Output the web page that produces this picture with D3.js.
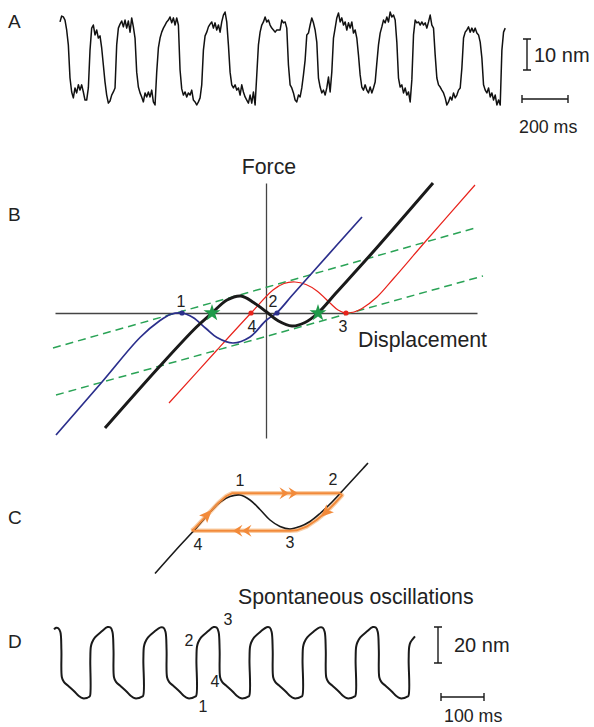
<!DOCTYPE html>
<html lang="en">
<head>
<meta charset="UTF-8" />
<title>Hair-bundle oscillations</title>
<style>
    body, html { margin: 0; padding: 0; background: #fff; overflow: hidden; }
    svg { display: block; font-family: "Liberation Sans", Arial, sans-serif; }
    .letter { font-size: 19px; fill: #222; }
    .big { font-size: 21.3px; fill: #222; }
    .bar { font-size: 20px; fill: #222; }
    .small { font-size: 17.8px; fill: #222; }
    .num { font-size: 16px; fill: #222; }
    .axis path { stroke: #444; stroke-width: 1.3px; }
</style>
</head>
<body>
<svg width="594" height="727"></svg>

<script src="https://d3js.org/d3.v7.min.js"></script>
<script>
    // ---------- data ----------
    // A: bundle position (nm), one sample every 7.25 ms
    const traceAStep = 7.25;
    const traceA = [
        26.8, 28.7, 28.4, 27.4, 24.2, 19.4, 8.7, 4.2, 2.3, 5.5,
        3.9, 6.5, 4.8, 6.5, 4.2, 1.6, 1.6, 5.5, 17.7, 24.8,
        25.8, 22.6, 24.2, 21.6, 22.3, 18.4, 12.9, 7.4, 3.2, 0.6,
        1.3, 3.2, 4.2, 5.5, 19.4, 24.8, 26.1, 27.1, 25.2, 27.4,
        24.8, 27.1, 23.5, 28.1, 25.2, 21.6, 10.6, 5.8, 3.9, 2.6,
        1.0, 3.9, 2.6, 4.2, 2.6, 4.8, 1.0, 0.0, 10.6, 18.4,
        21.6, 23.5, 24.8, 25.8, 26.8, 27.4,
        28.4, 26.5, 28.1, 25.8, 28.1, 25.8, 11.3, 5.2, 3.2, 4.2,
        2.6, 3.9, 3.2, 4.8, 1.6, 1.0, 0.0, 1.0, 2.3, 6.5,
        17.7, 22.3, 23.5, 25.2, 26.1, 26.8, 24.8, 26.5, 24.2, 25.8,
        23.5, 26.8, 29.0, 30.0, 26.8, 19.4, 10.6, 6.5, 5.5, 6.5,
        4.8, 5.5, 3.2, 6.5, 4.2, 2.6, 1.6, 0.6, 3.2, 0.6,
        4.2, 0.0, 9.7, 19.4, 23.5, 25.8, 26.8, 28.4, 26.8, 27.4,
        25.8, 24.8, 24.2, 23.5, 24.2, 24.2,
        24.2, 27.4, 26.5, 26.8, 24.8, 12.9, 6.5, 5.5, 3.9, 1.6,
        1.0, 3.2, 2.6, 5.5, 9.7, 14.5, 22.6, 23.2, 25.8, 28.1,
        26.5, 24.2, 20.3, 8.7, 5.8, 3.9, 4.8, 3.2, 5.5, 9.0,
        4.2, 10.6, 21.6, 24.8, 28.1, 29.7, 26.8, 28.1, 25.8, 26.8,
        24.2, 26.5, 24.8, 26.8, 23.2, 24.2, 21.6, 16.1, 9.7, 5.8,
        4.8, 6.5, 4.8, 3.9, 5.8, 3.9, 5.5, 7.4, 13.5, 19.4,
        23.2, 25.2, 27.4, 26.5, 28.4, 26.8,
        30.0, 28.4, 29.0, 27.4, 20.3, 8.7, 5.8, 6.5, 3.9, 5.5,
        3.2, 4.2, 1.0, 8.1, 22.6, 27.4, 26.5, 26.8, 25.8, 26.8,
        25.8, 26.5, 24.8, 26.8, 29.0, 25.8, 24.8, 16.1, 8.7, 6.5,
        5.8, 4.8, 3.9, 2.3, 0.0, 1.0, 2.6, 1.6, 3.9, 2.3,
        3.2, 4.8, 5.5, 11.9, 21.6, 23.5, 24.2, 25.2, 23.5, 24.8,
        23.5, 24.8, 23.2, 22.6, 20.3, 15.2, 6.5, 4.8, 3.9, 5.5,
        2.6, 3.9, 1.6, 3.2, 0.0, 1.6, 0.0, 17.7, 23.5, 24.8
    ];

    // B: force-displacement relations [displacement, force] (arb. units)
    const blackCurve = [[-16.1, -11.5], [-10.6, -5.3], [-7.0, -1.45], [-5.4, 0.0], [-3.9, 1.3], [-2.5, 1.7],
        [-1.25, 1.05], [0, 0.15], [1.25, -0.8], [2.6, -1.3], [3.9, -0.95], [5.2, 0.0], [7.0, 2.0],
        [10.7, 6.1], [16.7, 13.0]];
    const blueCurve = [[-21, -12.2], [-16.4, -6.9], [-12.6, -2.45], [-10.6, -0.75], [-9.5, -0.12], [-8.4, 0],
        [-7.3, -0.45], [-6.0, -1.55], [-4.9, -2.45], [-3.3, -3.0], [-1.6, -2.4], [0, -0.75], [1.1, 0.05],
        [2.6, 1.75], [5.0, 4.45], [9.6, 9.6]];
    const redCurve = [[-9.7, -9.0], [-4.9, -3.7], [-1.5, 0], [0.7, 2.3], [1.8, 2.95], [2.9, 3.1], [4.0, 2.85],
        [5.1, 2.2], [6.4, 1.0], [7.2, 0.3], [8.0, 0], [8.8, 0.1], [9.6, 0.45], [11.1, 1.6], [12.8, 3.5],
        [15.9, 7.1], [20.9, 12.8]];
    const loadLines = [
        [[-21.3, -3.5], [20.9, 8.5]],
        [[-21.0, -8.2], [21.7, 3.7]]
    ];
    const bluePoints = [{ x: -8.4, y: 0, label: "1" }, { x: 1.1, y: 0, label: "2" }];
    const redPoints = [{ x: -1.5, y: 0, label: "4" }, { x: 8.0, y: 0, label: "3" }];
    const fixedPoints = [[-5.4, 0], [5.2, 0]];

    // C: relation and the cycle followed by the bundle
    const cCurve = [[-11, -6.1], [-8.5, -3.3], [-7.2, -1.9], [-5.8, -0.3], [-4.5, 1.05], [-3.5, 1.6], [-2.5, 1.75],
        [-1.5, 1.25], [-0.5, 0.3], [0.5, -0.75], [1.5, -1.4], [2.5, -1.65], [3.5, -1.4], [4.5, -0.9],
        [5.5, -0.1], [6.5, 0.85], [7.5, 1.9], [9.8, 4.4], [10.3, 4.95]];
    const cLoop = [[-7.33, -1.82], [-7.0, -1.55], [-5.85, -0.32], [-4.67, 0.95], [-3.85, 1.65], [-3.3, 1.92],
        [7.5, 1.92], [7.7, 1.72], [7.0, 0.95], [6.15, 0.08], [5.15, -0.75], [4.15, -1.42], [3.15, -1.78],
        [2.5, -1.82], [-7.33, -1.82]];
    const cLabels = [
        { x: -2.5, y: 1.75, label: "1" }, { x: 7.5, y: 1.9, label: "2" },
        { x: 2.5, y: -1.65, label: "3" }, { x: -6.7, y: -1.82, label: "4" }
    ];
    const cJumps = [[2.4, 1.92], [-2.3, -1.82]];

    // D: simulated spontaneous oscillation, time (ms) and position (nm)
    const dTime = [0, 5, 10, 14.8, 17.2, 18.3, 23, 34.6, 47.4, 57.8, 67.2, 76.5, 81.1,
        83.7, 84.4, 85.6, 88.4, 95.3, 110.4, 124.4, 131.4, 136.0, 138.4, 139.5, 144.2, 155.8, 168.6, 179.0, 188.4, 197.7, 202.3,
        207.1, 207.8, 209.0, 211.8, 218.7, 233.8, 247.8, 254.8, 259.4, 261.8, 262.9, 267.6, 279.2, 292.0, 302.4, 311.8, 321.1, 325.7,
        330.5, 331.2, 332.4, 335.2, 342.1, 357.2, 371.2, 378.2, 382.8, 385.2, 386.3, 391.0, 402.6, 415.4, 425.8, 435.2, 444.5, 449.1,
        453.9, 454.6, 455.8, 458.6, 465.5, 480.6, 494.6, 501.6, 506.2, 508.6, 509.7, 514.4, 526.0, 538.8, 549.2, 558.6, 567.9, 572.5,
        577.3, 578.0, 579.2, 582.0, 588.9, 604.0, 618.0, 625.0, 629.6, 632.0, 633.1, 637.8, 649.4, 662.2, 672.6, 682.0, 691.3, 695.9,
        700.7, 701.4, 702.6, 705.4, 712.3, 727.4, 741.4, 748.4, 753.0, 755.4, 756.5, 761.2, 772.8, 785.6, 796.0, 805.4, 814.7, 819.3,
        824.1, 824.8, 826.0, 828.8, 839.5];
    const dDisp = [38.3, 39.2, 38.9, 36.8, 26.8, 11.7, 9.1, 6.6, 3.8, 1.3, 0, 0.2, 0.7,
        1.3, 21.3, 28.5, 31.0, 33.8, 37.1, 39.6, 39.3, 36.8, 26.8, 11.7, 9.1, 6.6, 3.8, 1.3, 0, 0.2, 0.7,
        1.3, 21.3, 28.5, 31.0, 33.8, 37.1, 39.4, 39.2, 36.8, 26.8, 11.7, 9.1, 6.6, 3.8, 1.3, 0, 0.2, 0.7,
        1.3, 21.3, 28.5, 31.0, 33.8, 37.1, 39.6, 39.3, 36.8, 26.8, 11.7, 9.1, 6.6, 3.8, 1.3, 0, 0.2, 0.7,
        1.3, 21.3, 28.5, 31.0, 33.8, 37.1, 39.5, 39.3, 36.8, 26.8, 11.7, 9.1, 6.6, 3.8, 1.3, 0, 0.2, 0.7,
        1.3, 21.3, 28.5, 31.0, 33.8, 37.1, 39.4, 39.2, 36.8, 26.8, 11.7, 9.1, 6.6, 3.8, 1.3, 0, 0.2, 0.7,
        1.3, 21.3, 28.5, 31.0, 33.8, 37.1, 39.6, 39.3, 36.8, 26.8, 11.7, 9.1, 6.6, 3.8, 1.3, 0, 0.2, 0.7,
        1.3, 21.3, 28.5, 31.0, 34.4];

    // ---------- drawing ----------
    const svg = d3.select("svg");
    const ink = "#1a1a1a";

    function text(x, y, str, cls, anchor) {
        svg.append("text").attr("x", x).attr("y", y).attr("class", cls)
            .attr("text-anchor", anchor || "start").text(str);
    }

    // vertical bar with caps / horizontal bar with end ticks
    function vBar(x, y0, y1) {
        const p = d3.path();
        p.moveTo(x, y0); p.lineTo(x, y1);
        p.moveTo(x - 4, y0); p.lineTo(x + 4, y0);
        p.moveTo(x - 4, y1); p.lineTo(x + 4, y1);
        svg.append("path").attr("d", p).attr("stroke", ink).attr("stroke-width", 1.4).attr("fill", "none");
    }
    function hBar(x0, x1, y) {
        const p = d3.path();
        p.moveTo(x0, y); p.lineTo(x1, y);
        p.moveTo(x0, y - 4); p.lineTo(x0, y + 4);
        p.moveTo(x1, y - 4); p.lineTo(x1, y + 4);
        svg.append("path").attr("d", p).attr("stroke", ink).attr("stroke-width", 1.4).attr("fill", "none");
    }

    text(8, 28, "A", "letter");
    text(8, 221, "B", "letter");
    text(8, 524, "C", "letter");
    text(8, 648, "D", "letter");

    // Panel A
    const xA = d3.scaleLinear().domain([0, 200]).range([60, 106]);
    const yA = d3.scaleLinear().domain([0, 10]).range([105, 74]);

    svg.append("path").datum(traceA)
        .attr("d", d3.line().x((d, i) => xA(i * traceAStep)).y(d => yA(d)))
        .attr("fill", "none").attr("stroke", "#111").attr("stroke-width", 1.5)
        .attr("stroke-linejoin", "round");

    vBar(527, 39, 39 + (yA(0) - yA(10)));
    text(534, 62, "10 nm", "bar");
    hBar(522, 522 + xA(200) - xA(0), 99);
    text(519, 133, "200 ms", "small");

    // Panel B
    const xB = d3.scaleLinear().domain([-21.1, 21.1]).range([55, 477]);
    const yB = d3.scaleLinear().domain([-12.5, 13]).range([438, 183]);

    svg.append("g").attr("class", "axis")
        .attr("transform", `translate(0,${yB(0)})`)
        .call(d3.axisBottom(xB).tickValues([]).tickSizeOuter(0));
    svg.append("g").attr("class", "axis")
        .attr("transform", `translate(${xB(0)},0)`)
        .call(d3.axisLeft(yB).tickValues([]).tickSizeOuter(0));

    text(xB(0) + 3, 174, "Force", "big", "middle");
    text(358, 347, "Displacement", "big");

    const lineB = d3.line().x(d => xB(d[0])).y(d => yB(d[1])).curve(d3.curveCatmullRom.alpha(0.5));

    svg.selectAll(".load").data(loadLines).join("path")
        .attr("d", d3.line().x(d => xB(d[0])).y(d => yB(d[1])))
        .attr("stroke", "#2aa356").attr("stroke-width", 1.5)
        .attr("stroke-dasharray", "8 5").attr("fill", "none");

    svg.append("path").attr("d", lineB(redCurve))
        .attr("stroke", "#e8231c").attr("stroke-width", 1.2).attr("fill", "none");
    svg.append("path").attr("d", lineB(blueCurve))
        .attr("stroke", "#2b2f8c").attr("stroke-width", 1.7).attr("fill", "none");
    svg.append("path").attr("d", lineB(blackCurve))
        .attr("stroke", ink).attr("stroke-width", 3).attr("fill", "none");

    svg.selectAll(".bdot").data(bluePoints).join("circle")
        .attr("cx", d => xB(d.x)).attr("cy", d => yB(d.y)).attr("r", 2.6).attr("fill", "#2b2f8c");
    svg.selectAll(".rdot").data(redPoints).join("circle")
        .attr("cx", d => xB(d.x)).attr("cy", d => yB(d.y)).attr("r", 2.6).attr("fill", "#e8231c");
    svg.selectAll(".star").data(fixedPoints).join("path")
        .attr("d", d3.symbol().type(d3.symbolStar).size(90))
        .attr("transform", d => `translate(${xB(d[0])},${yB(d[1])})`)
        .attr("fill", "#1f9a4a");

    text(xB(bluePoints[0].x) - 1, yB(0) - 6, "1", "num", "middle");
    text(xB(bluePoints[1].x) - 4, yB(0) - 6, "2", "num", "middle");
    text(xB(redPoints[0].x) + 1, yB(0) + 19, "4", "num", "middle");
    text(xB(redPoints[1].x) - 3, yB(0) + 19, "3", "num", "middle");

    // Panel C
    const xC = d3.scaleLinear().domain([-10, 10]).range([165, 365]);
    const yC = d3.scaleLinear().domain([-10, 10]).range([612.5, 412.5]);
    const lineC = d3.line().x(d => xC(d[0])).y(d => yC(d[1]));
    const orange = "#f28a3a";

    svg.append("path").attr("d", lineC(cLoop))
        .attr("stroke", "#f9cfa8").attr("stroke-width", 4.5).attr("fill", "none")
        .attr("stroke-linejoin", "round");
    svg.append("path").attr("d", lineC.curve(d3.curveCatmullRom.alpha(0.5))(cCurve))
        .attr("stroke", ink).attr("stroke-width", 1.6).attr("fill", "none");
    lineC.curve(d3.curveLinear);
    svg.append("path").attr("d", lineC(cLoop))
        .attr("stroke", orange).attr("stroke-width", 1.9).attr("fill", "none")
        .attr("stroke-linejoin", "round");

    // arrowheads along the two slow branches
    [2, 9].forEach(i => {
        const a = cLoop[i - 1], b = cLoop[i + 1];
        const ang = Math.atan2(yC(b[1]) - yC(a[1]), xC(b[0]) - xC(a[0])) * 180 / Math.PI;
        svg.append("path").attr("d", "M8,0 L-5,-5.5 L-2,0 L-5,5.5 Z")
            .attr("transform", `translate(${xC(cLoop[i][0])},${yC(cLoop[i][1])}) rotate(${ang})`)
            .attr("fill", orange);
    });
    // double chevrons on the fast jumps
    cJumps.forEach((d, k) => {
        const g = svg.append("g")
            .attr("transform", `translate(${xC(d[0])},${yC(d[1])}) rotate(${k === 0 ? 0 : 180})`);
        [-5, 4].forEach(dx => {
            g.append("path").attr("d", `M${dx - 4.5},-6 L${dx + 5},0 L${dx - 4.5},6 L${dx - 1},0 Z`)
                .attr("fill", orange);
        });
    });

    cLabels.forEach(d => {
        const up = d.y > 0;
        text(xC(d.x) + (d.label === "2" ? -7 : 0), yC(d.y) + (up ? -9 : 19), d.label, "num", "middle");
    });

    // Panel D
    const xD = d3.scaleLinear().domain([0, 100]).range([54, 97]);
    const yD = d3.scaleLinear().domain([0, 20]).range([698.3, 662.3]);
    text(238, 604, "Spontaneous oscillations", "big");

    svg.append("path").datum(dTime.map((t, i) => [t, dDisp[i]]))
        .attr("d", d3.line().x(d => xD(d[0])).y(d => yD(d[1])).curve(d3.curveCatmullRom.alpha(0.5)))
        .attr("fill", "none").attr("stroke", ink).attr("stroke-width", 2)
        .attr("stroke-linejoin", "round");

    text(189, 646, "2", "num", "middle");
    text(228, 625, "3", "num", "middle");
    text(215, 687, "4", "num", "middle");
    text(203, 712, "1", "num", "middle");

    vBar(438, 627, 627 + (yD(0) - yD(20)));
    text(454, 652, "20 nm", "bar");
    hBar(441, 441 + xD(100) - xD(0), 697);
    text(444, 722, "100 ms", "small");
</script>
</body>
</html>
